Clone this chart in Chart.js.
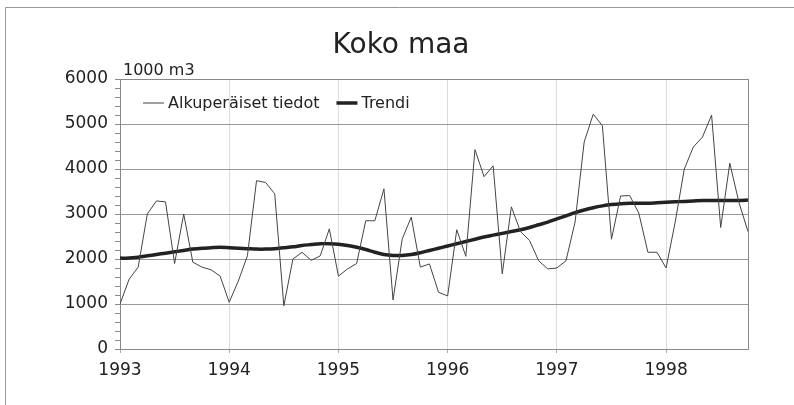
<!DOCTYPE html>
<html lang="fi">
<head>
<meta charset="utf-8">
<title>Koko maa</title>
<script src="https://cdn.jsdelivr.net/npm/chart.js@4/dist/chart.umd.min.js"></script>
<style>
  html, body { margin: 0; padding: 0; background: #fff; overflow: hidden; }
  canvas { display: block; }
</style>
</head>
<body>
<canvas id="chart" width="794" height="405"></canvas>
<script>
// months from Jan 1993 (0) to Oct 1998 (69)
const years = [1993, 1994, 1995, 1996, 1997, 1998];
const yTicks = [0, 1000, 2000, 3000, 4000, 5000, 6000];

const original = [
  1000, 1550, 1820, 3000, 3290, 3270, 1900, 3000, 1930, 1820, 1760, 1620,
  1040, 1510, 2070, 3740, 3700, 3450, 960, 2000, 2150, 1970, 2070, 2670,
  1620, 1780, 1900, 2850, 2850, 3560, 1090, 2440, 2930, 1820, 1890, 1260,
  1180, 2650, 2060, 4430, 3830, 4070, 1670, 3160, 2610, 2410, 1960, 1780,
  1800, 1960, 2820, 4600, 5220, 4960, 2440, 3400, 3410, 3020, 2150, 2150,
  1800, 2820, 4000, 4490, 4710, 5200, 2700, 4130, 3260, 2610
];

const trend = [
  2020, 2020, 2040, 2070, 2100, 2130, 2160, 2190, 2220, 2240, 2250, 2260,
  2250, 2240, 2230, 2220, 2220, 2230, 2250, 2270, 2300, 2320, 2340, 2340,
  2330, 2300, 2260, 2210, 2150, 2100, 2080, 2080, 2100, 2140, 2190, 2240,
  2290, 2340, 2390, 2440, 2490, 2530, 2570, 2610, 2650, 2700, 2760, 2820,
  2890, 2960, 3030, 3090, 3140, 3180, 3210, 3230, 3240, 3240, 3240, 3250,
  3260, 3270, 3280, 3290, 3300, 3300, 3300, 3300, 3300, 3310
];

const FONT = "'DejaVu Sans', sans-serif";

// page frame, plot frame, title, unit label and the legend inside the plot
const decorations = {
  id: "decorations",
  beforeDraw(chart) {
    const { ctx, width, height } = chart;
    ctx.save();
    ctx.strokeStyle = "#999";
    ctx.lineWidth = 1;
    ctx.beginPath();
    ctx.moveTo(5.5, height);
    ctx.lineTo(5.5, 7.5);
    ctx.lineTo(width, 7.5);
    ctx.stroke();
    ctx.restore();
  },
  beforeDatasetsDraw(chart) {
    const { ctx, chartArea: a } = chart;
    ctx.save();
    ctx.strokeStyle = "#888";
    ctx.lineWidth = 1;
    ctx.strokeRect(a.left + 0.5, a.top + 0.5, a.right - a.left, a.bottom - a.top);
    ctx.restore();
  },
  afterDraw(chart) {
    const { ctx, chartArea: a } = chart;
    ctx.save();
    ctx.fillStyle = "#222";
    ctx.textAlign = "center";
    ctx.textBaseline = "alphabetic";
    ctx.font = `28px ${FONT}`;
    ctx.fillText("Koko maa", 401, 53);

    ctx.textAlign = "left";
    ctx.font = `16px ${FONT}`;
    ctx.fillText("1000 m3", a.left + 3, 75);

    // legend
    const ly = 103;
    let x = 143;
    ctx.textBaseline = "middle";
    chart.data.datasets.forEach(ds => {
      ctx.strokeStyle = ds.borderColor;
      ctx.lineWidth = ds.borderWidth;
      ctx.beginPath();
      ctx.moveTo(x, ly);
      ctx.lineTo(x + 21, ly);
      ctx.stroke();
      ctx.fillStyle = "#222";
      ctx.fillText(ds.label, x + 25, ly + 1);
      x += 25 + ctx.measureText(ds.label).width + 17;
    });
    ctx.restore();
  }
};

function renderChart() {
  const ctx = document.getElementById("chart").getContext("2d");
  new Chart(ctx, {
    type: "line",
    data: {
      datasets: [
        {
          label: "Alkuperäiset tiedot",
          data: original.map((v, i) => ({ x: i, y: v })),
          borderColor: "#444",
          borderWidth: 1,
          pointRadius: 0,
          tension: 0
        },
        {
          label: "Trendi",
          data: trend.map((v, i) => ({ x: i, y: v })),
          borderColor: "#222",
          borderWidth: 3.5,
          pointRadius: 0,
          tension: 0.3
        }
      ]
    },
    options: {
      responsive: false,
      animation: false,
      devicePixelRatio: 1,
      layout: { padding: { left: 0, top: 79, right: 46, bottom: 0 } },
      plugins: {
        legend: { display: false },
        title: { display: false },
        tooltip: { enabled: false }
      },
      scales: {
        x: {
          type: "linear",
          min: 0,
          max: original.length - 1,
          afterFit: s => { s.height = 56; },
          border: { display: false },
          grid: {
            color: "#dcdcdc",
            tickColor: "#aaa",
            tickLength: 4
          },
          ticks: {
            stepSize: 12,
            includeBounds: false,
            maxRotation: 0,
            padding: 7,
            color: "#222",
            font: { family: FONT, size: 17 },
            callback: v => years[v / 12]
          }
        },
        y: {
          min: yTicks[0],
          max: yTicks[yTicks.length - 1],
          afterFit: s => { s.width = 120; },
          border: { display: false },
          grid: {
            color: c => (c.tick && c.tick.value % 1000 === 0 ? "#999" : "rgba(0,0,0,0)"),
            tickColor: "#888",
            tickLength: 5
          },
          ticks: {
            stepSize: 200,
            autoSkip: false,
            padding: 7,
            color: "#222",
            font: { family: FONT, size: 17 },
            callback: v => (yTicks.includes(v) ? v : "")
          }
        }
      }
    },
    plugins: [decorations]
  });
}

document.addEventListener("DOMContentLoaded", renderChart);
</script>
</body>
</html>
